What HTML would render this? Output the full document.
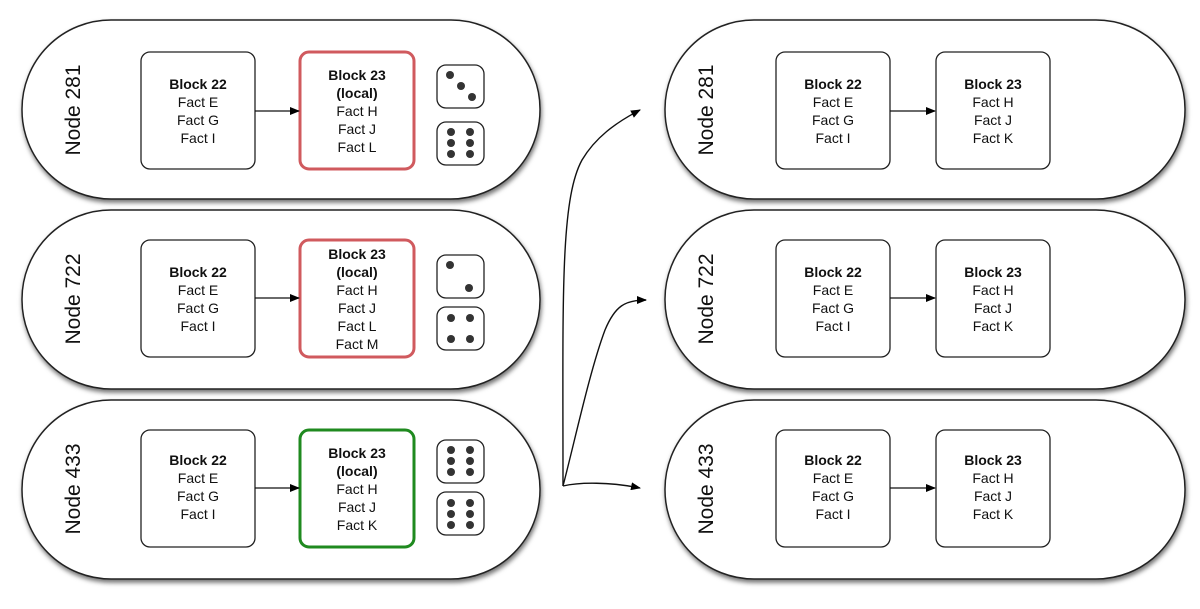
<!DOCTYPE html>
<html><head><meta charset="utf-8"><style>
body{margin:0;background:#fff;}
svg{display:block;}
text{font-family:"Liberation Sans",Arial,sans-serif;fill:#111;}
.t{font-size:14px;text-anchor:middle;}
.b{font-weight:bold;}
.n{font-size:21px;}
</style></head><body>
<svg width="1200" height="609" viewBox="0 0 1200 609" xmlns="http://www.w3.org/2000/svg">
<defs>
<filter id="sh" x="-5%" y="-10%" width="110%" height="125%">
<feDropShadow dx="1" dy="3" stdDeviation="2.5" flood-color="#000" flood-opacity="0.55"/>
</filter>
<marker id="ar" markerWidth="10" markerHeight="8" refX="9" refY="4" orient="auto" markerUnits="userSpaceOnUse">
<path d="M0,0 L10,4 L0,8 z" fill="#000"/>
</marker>
</defs>

<!-- pills -->
<g fill="#fff" stroke="#222" stroke-width="1.5" filter="url(#sh)">
<rect x="22" y="20" width="518" height="179" rx="89"/>
<rect x="22" y="210" width="518" height="179" rx="89"/>
<rect x="22" y="400" width="518" height="179" rx="89"/>
<rect x="665" y="20" width="520" height="179" rx="89"/>
<rect x="665" y="210" width="520" height="179" rx="89"/>
<rect x="665" y="400" width="520" height="179" rx="89"/>
</g>

<!-- node labels -->
<text class="n" transform="translate(80,110) rotate(-90)" text-anchor="middle">Node 281</text>
<text class="n" transform="translate(80,299) rotate(-90)" text-anchor="middle">Node 722</text>
<text class="n" transform="translate(80,489) rotate(-90)" text-anchor="middle">Node 433</text>
<text class="n" transform="translate(713,110) rotate(-90)" text-anchor="middle">Node 281</text>
<text class="n" transform="translate(713,299) rotate(-90)" text-anchor="middle">Node 722</text>
<text class="n" transform="translate(713,489) rotate(-90)" text-anchor="middle">Node 433</text>

<!-- boxes -->
<g fill="#fff" stroke="#222" stroke-width="1.3">
<rect x="141" y="52" width="114" height="117" rx="9"/>
<rect x="141" y="240" width="114" height="117" rx="9"/>
<rect x="141" y="430" width="114" height="117" rx="9"/>
<rect x="776" y="52" width="114" height="117" rx="9"/>
<rect x="776" y="240" width="114" height="117" rx="9"/>
<rect x="776" y="430" width="114" height="117" rx="9"/>
<rect x="936" y="52" width="114" height="117" rx="9"/>
<rect x="936" y="240" width="114" height="117" rx="9"/>
<rect x="936" y="430" width="114" height="117" rx="9"/>
</g>
<g fill="#fff" stroke-width="3">
<rect x="300" y="52" width="114" height="117" rx="9" stroke="#d05a5e"/>
<rect x="300" y="240" width="114" height="117" rx="9" stroke="#d05a5e"/>
<rect x="300" y="430" width="114" height="117" rx="9" stroke="#1f8a1f"/>
</g>

<!-- arrows inside -->
<g stroke="#111" stroke-width="1.3" marker-end="url(#ar)">
<line x1="255" y1="111" x2="299" y2="111"/>
<line x1="255" y1="298" x2="299" y2="298"/>
<line x1="255" y1="488" x2="299" y2="488"/>
<line x1="890" y1="111" x2="935" y2="111"/>
<line x1="890" y1="298" x2="935" y2="298"/>
<line x1="890" y1="488" x2="935" y2="488"/>
</g>

<!-- Block 22 texts -->
<g class="t">
<text class="t" x="198" y="89"><tspan class="b">Block 22</tspan><tspan x="198" dy="18">Fact E</tspan><tspan x="198" dy="18">Fact G</tspan><tspan x="198" dy="18">Fact I</tspan></text>
<text class="t" x="198" y="277"><tspan class="b">Block 22</tspan><tspan x="198" dy="18">Fact E</tspan><tspan x="198" dy="18">Fact G</tspan><tspan x="198" dy="18">Fact I</tspan></text>
<text class="t" x="198" y="465"><tspan class="b">Block 22</tspan><tspan x="198" dy="18">Fact E</tspan><tspan x="198" dy="18">Fact G</tspan><tspan x="198" dy="18">Fact I</tspan></text>
<text class="t" x="833" y="89"><tspan class="b">Block 22</tspan><tspan x="833" dy="18">Fact E</tspan><tspan x="833" dy="18">Fact G</tspan><tspan x="833" dy="18">Fact I</tspan></text>
<text class="t" x="833" y="277"><tspan class="b">Block 22</tspan><tspan x="833" dy="18">Fact E</tspan><tspan x="833" dy="18">Fact G</tspan><tspan x="833" dy="18">Fact I</tspan></text>
<text class="t" x="833" y="465"><tspan class="b">Block 22</tspan><tspan x="833" dy="18">Fact E</tspan><tspan x="833" dy="18">Fact G</tspan><tspan x="833" dy="18">Fact I</tspan></text>
<text class="t" x="993" y="89"><tspan class="b">Block 23</tspan><tspan x="993" dy="18">Fact H</tspan><tspan x="993" dy="18">Fact J</tspan><tspan x="993" dy="18">Fact K</tspan></text>
<text class="t" x="993" y="277"><tspan class="b">Block 23</tspan><tspan x="993" dy="18">Fact H</tspan><tspan x="993" dy="18">Fact J</tspan><tspan x="993" dy="18">Fact K</tspan></text>
<text class="t" x="993" y="465"><tspan class="b">Block 23</tspan><tspan x="993" dy="18">Fact H</tspan><tspan x="993" dy="18">Fact J</tspan><tspan x="993" dy="18">Fact K</tspan></text>
<text class="t" x="357" y="80"><tspan class="b">Block 23</tspan><tspan x="357" dy="18" class="b">(local)</tspan><tspan x="357" dy="18">Fact H</tspan><tspan x="357" dy="18">Fact J</tspan><tspan x="357" dy="18">Fact L</tspan></text>
<text class="t" x="357" y="259"><tspan class="b">Block 23</tspan><tspan x="357" dy="18" class="b">(local)</tspan><tspan x="357" dy="18">Fact H</tspan><tspan x="357" dy="18">Fact J</tspan><tspan x="357" dy="18">Fact L</tspan><tspan x="357" dy="18">Fact M</tspan></text>
<text class="t" x="357" y="458"><tspan class="b">Block 23</tspan><tspan x="357" dy="18" class="b">(local)</tspan><tspan x="357" dy="18">Fact H</tspan><tspan x="357" dy="18">Fact J</tspan><tspan x="357" dy="18">Fact K</tspan></text>
</g>

<!-- dice -->
<g fill="#fff" stroke="#222" stroke-width="1.3">
<rect x="437" y="65" width="47" height="43" rx="9"/>
<rect x="437" y="122" width="47" height="43" rx="9"/>
<rect x="437" y="255" width="47" height="43" rx="9"/>
<rect x="437" y="307" width="47" height="43" rx="9"/>
<rect x="437" y="440" width="47" height="43" rx="9"/>
<rect x="437" y="492" width="47" height="43" rx="9"/>
</g>
<g fill="#333">
<!-- die 3 -->
<circle cx="450" cy="75" r="4"/><circle cx="461" cy="86" r="4"/><circle cx="472" cy="97" r="4"/>
<!-- die 6 -->
<circle cx="451" cy="132" r="4"/><circle cx="451" cy="143" r="4"/><circle cx="451" cy="154" r="4"/>
<circle cx="470" cy="132" r="4"/><circle cx="470" cy="143" r="4"/><circle cx="470" cy="154" r="4"/>
<!-- die 2 -->
<circle cx="450" cy="265" r="4"/><circle cx="469" cy="288" r="4"/>
<!-- die 4 -->
<circle cx="451" cy="318" r="4"/><circle cx="470" cy="318" r="4"/><circle cx="451" cy="339" r="4"/><circle cx="470" cy="339" r="4"/>
<!-- die 6 -->
<circle cx="451" cy="450" r="4"/><circle cx="451" cy="461" r="4"/><circle cx="451" cy="472" r="4"/>
<circle cx="470" cy="450" r="4"/><circle cx="470" cy="461" r="4"/><circle cx="470" cy="472" r="4"/>
<circle cx="451" cy="503" r="4"/><circle cx="451" cy="514" r="4"/><circle cx="451" cy="525" r="4"/>
<circle cx="470" cy="503" r="4"/><circle cx="470" cy="514" r="4"/><circle cx="470" cy="525" r="4"/>
</g>

<!-- curved connectors -->
<g fill="none" stroke="#111" stroke-width="1.4" marker-end="url(#ar)">
<path d="M563,486 C563,300 560,200 582,160 C595,138 615,123 640,110"/>
<path d="M563,486 C575,440 590,370 605,330 C615,306 625,300 646,300"/>
<path d="M563,486 C580,482 610,482 640,488"/>
</g>
</svg>
</body></html>
